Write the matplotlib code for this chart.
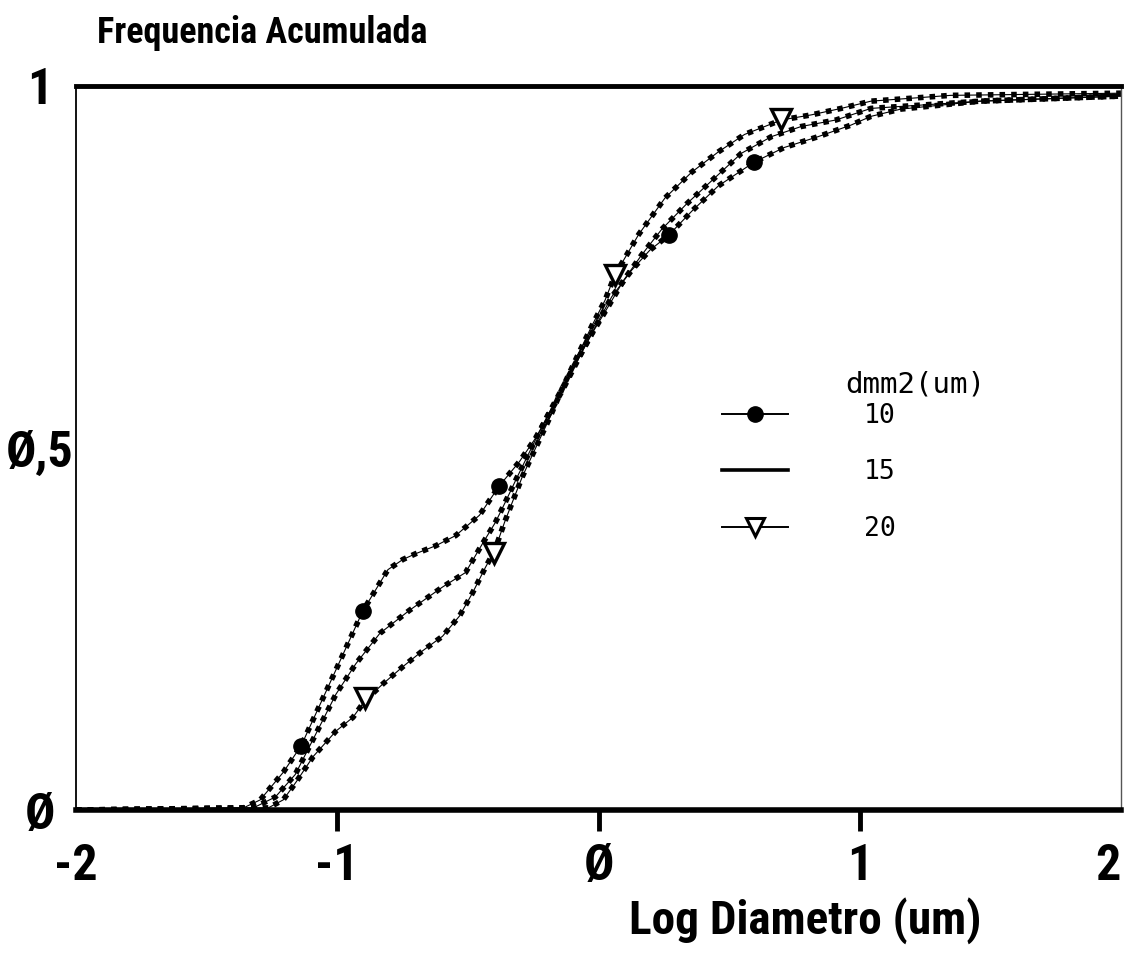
import matplotlib
matplotlib.use("Agg")
import matplotlib.pyplot as plt
from matplotlib import font_manager
from matplotlib.lines import Line2D

# cumulative frequency curves
x10 = [-2.0, -1.359, -1.295, -1.207, -1.138, -1.016, -0.902, -0.806, -0.749, -0.700,
       -0.623, -0.547, -0.456, -0.379, -0.303, -0.242, -0.189, -0.139, -0.074, -0.013,
       0.051, 0.128, 0.196, 0.269, 0.357, 0.459, 0.597, 0.711, 0.841, 0.967,
       1.043, 1.157, 1.462, 2.0]
y10 = [0.0, 0.003, 0.014, 0.052, 0.089, 0.185, 0.275, 0.332, 0.346, 0.354,
       0.365, 0.379, 0.407, 0.448, 0.481, 0.513, 0.547, 0.579, 0.625, 0.667,
       0.709, 0.746, 0.773, 0.794, 0.827, 0.862, 0.895, 0.915, 0.930, 0.946,
       0.958, 0.968, 0.979, 0.986]

x15 = [-2.0, -1.321, -1.237, -1.161, -1.092, -1.005, -0.929, -0.837, -0.723, -0.597,
       -0.509, -0.444, -0.395, -0.357, -0.311, -0.254, -0.196, -0.139, -0.082, -0.025,
       0.040, 0.097, 0.166, 0.242, 0.337, 0.433, 0.547, 0.662, 0.776, 0.909,
       1.043, 1.462, 2.0]
y15 = [0.0, 0.003, 0.018, 0.049, 0.098, 0.160, 0.202, 0.244, 0.276, 0.308,
       0.328, 0.368, 0.397, 0.425, 0.460, 0.502, 0.544, 0.582, 0.621, 0.658,
       0.697, 0.732, 0.767, 0.802, 0.837, 0.869, 0.907, 0.930, 0.944, 0.953,
       0.969, 0.979, 0.986]

x20 = [-2.0, -1.264, -1.207, -1.157, -1.092, -1.005, -0.940, -0.894, -0.826, -0.749,
       -0.673, -0.597, -0.532, -0.482, -0.433, -0.398, -0.360, -0.330, -0.292, -0.242,
       -0.189, -0.139, -0.082, -0.025, 0.025, 0.063, 0.154, 0.254, 0.357, 0.459,
       0.559, 0.700, 0.814, 0.929, 1.043, 1.348, 2.0]
y20 = [0.0, 0.003, 0.014, 0.039, 0.074, 0.109, 0.128, 0.151, 0.174, 0.198,
       0.220, 0.240, 0.268, 0.300, 0.335, 0.358, 0.397, 0.425, 0.460, 0.499,
       0.540, 0.582, 0.626, 0.669, 0.704, 0.739, 0.795, 0.845, 0.881, 0.909,
       0.933, 0.953, 0.960, 0.969, 0.979, 0.987, 0.990]

# symbols drawn along the curves
mx10 = [-1.138, -0.902, -0.379, 0.269, 0.597]
my10 = [0.089, 0.275, 0.448, 0.794, 0.895]
mx20 = [-0.894, -0.400, 0.063, 0.700]
my20 = [0.155, 0.355, 0.739, 0.955]

xticks = [-2, -1, 0, 1, 2]
xlabels = ["-2", "-1", "Ø", "1", "2"]
yticks = [0, 0.5, 1]
ylabels = ["Ø", "Ø,5", "1"]
legend_labels = ["10", "15", "20"]

# the original uses a tall narrow plotter font: take a condensed face if there is one
installed = {f.name for f in font_manager.fontManager.ttflist}
stretch = "normal"
big = "DejaVu Sans Mono"
for name in ["Liberation Sans Narrow", "Roboto Condensed", "Open Sans Condensed",
             "Noto Sans Condensed", "DejaVu Sans Condensed"]:
    if name in installed:
        big = name
        break
else:
    cond = [f for f in font_manager.fontManager.ttflist
            if f.name == "DejaVu Sans" and str(f.stretch) in ("condensed", "semi-condensed", "75", "87")]
    if cond:
        big = "DejaVu Sans"
        stretch = "condensed"
mono = "DejaVu Sans Mono"
bigfont = dict(fontfamily=big, fontstretch=stretch, fontweight="bold")

fig = plt.figure(figsize=(11.25, 9.55), dpi=100)
ax = fig.add_axes([0.0676, 0.1518, 0.9288, 0.7582])


def draw_curve(x, y):
    ax.plot(x, y, color="black", lw=0.8)
    ax.plot(x, y, color="black", lw=4.0, linestyle=(0, (1, 1.1)),
            dash_capstyle="butt")


draw_curve(x10, y10)
draw_curve(x15, y15)
draw_curve(x20, y20)
ax.plot(mx10, my10, "o", color="black", ms=11, ls="none")
ax.plot(mx20, my20, "v", mfc="white", mec="black", mew=2.4, ms=14, ls="none")

ax.set_xlim(-2, 2)
ax.set_ylim(0, 1)

ax.spines["bottom"].set_linewidth(4)
ax.spines["top"].set_linewidth(3.5)
ax.spines["left"].set_linewidth(1.3)
ax.spines["right"].set_linewidth(1.0)
ax.spines["right"].set_color("#555555")

ax.set_xticks(xticks)
ax.set_xticklabels(xlabels, fontsize=36, **bigfont)
ax.tick_params(axis="x", direction="out", length=15, width=3.5, pad=9)
for t in (ax.xaxis.get_major_ticks()[0], ax.xaxis.get_major_ticks()[-1]):
    t.tick1line.set_visible(False)
ax.get_xticklabels()[-1].set_horizontalalignment("right")

ax.set_yticks(yticks)
ax.set_yticklabels(ylabels, fontsize=36, **bigfont)
ax.tick_params(axis="y", length=0, pad=26)
for lab in ax.get_yticklabels():
    lab.set_horizontalalignment("center")

fig.text(0.086, 0.984, "Frequencia Acumulada", fontsize=26, va="top",
         ha="left", **bigfont)
fig.text(0.716, 0.036, "Log Diametro (um)", fontsize=34, va="center",
         ha="center", **bigfont)

handles = [
    Line2D([], [], color="black", lw=1.4, marker="o", ms=11),
    Line2D([], [], color="black", lw=2.6),
    Line2D([], [], color="black", lw=1.4, marker="v", mfc="white",
           mec="black", mew=2.2, ms=13),
]
leg = ax.legend(handles, legend_labels, loc="upper left",
                bbox_to_anchor=(0.618, 0.562), frameon=False,
                prop={"family": mono, "size": 19}, handlelength=2.5,
                handletextpad=2.9, labelspacing=1.15, borderpad=0,
                borderaxespad=0)
ax.text(0.736, 0.587, "dmm2(um)", transform=ax.transAxes, fontfamily=mono,
        fontsize=21, va="center", ha="left")

fig.savefig("out.png", dpi=100)
